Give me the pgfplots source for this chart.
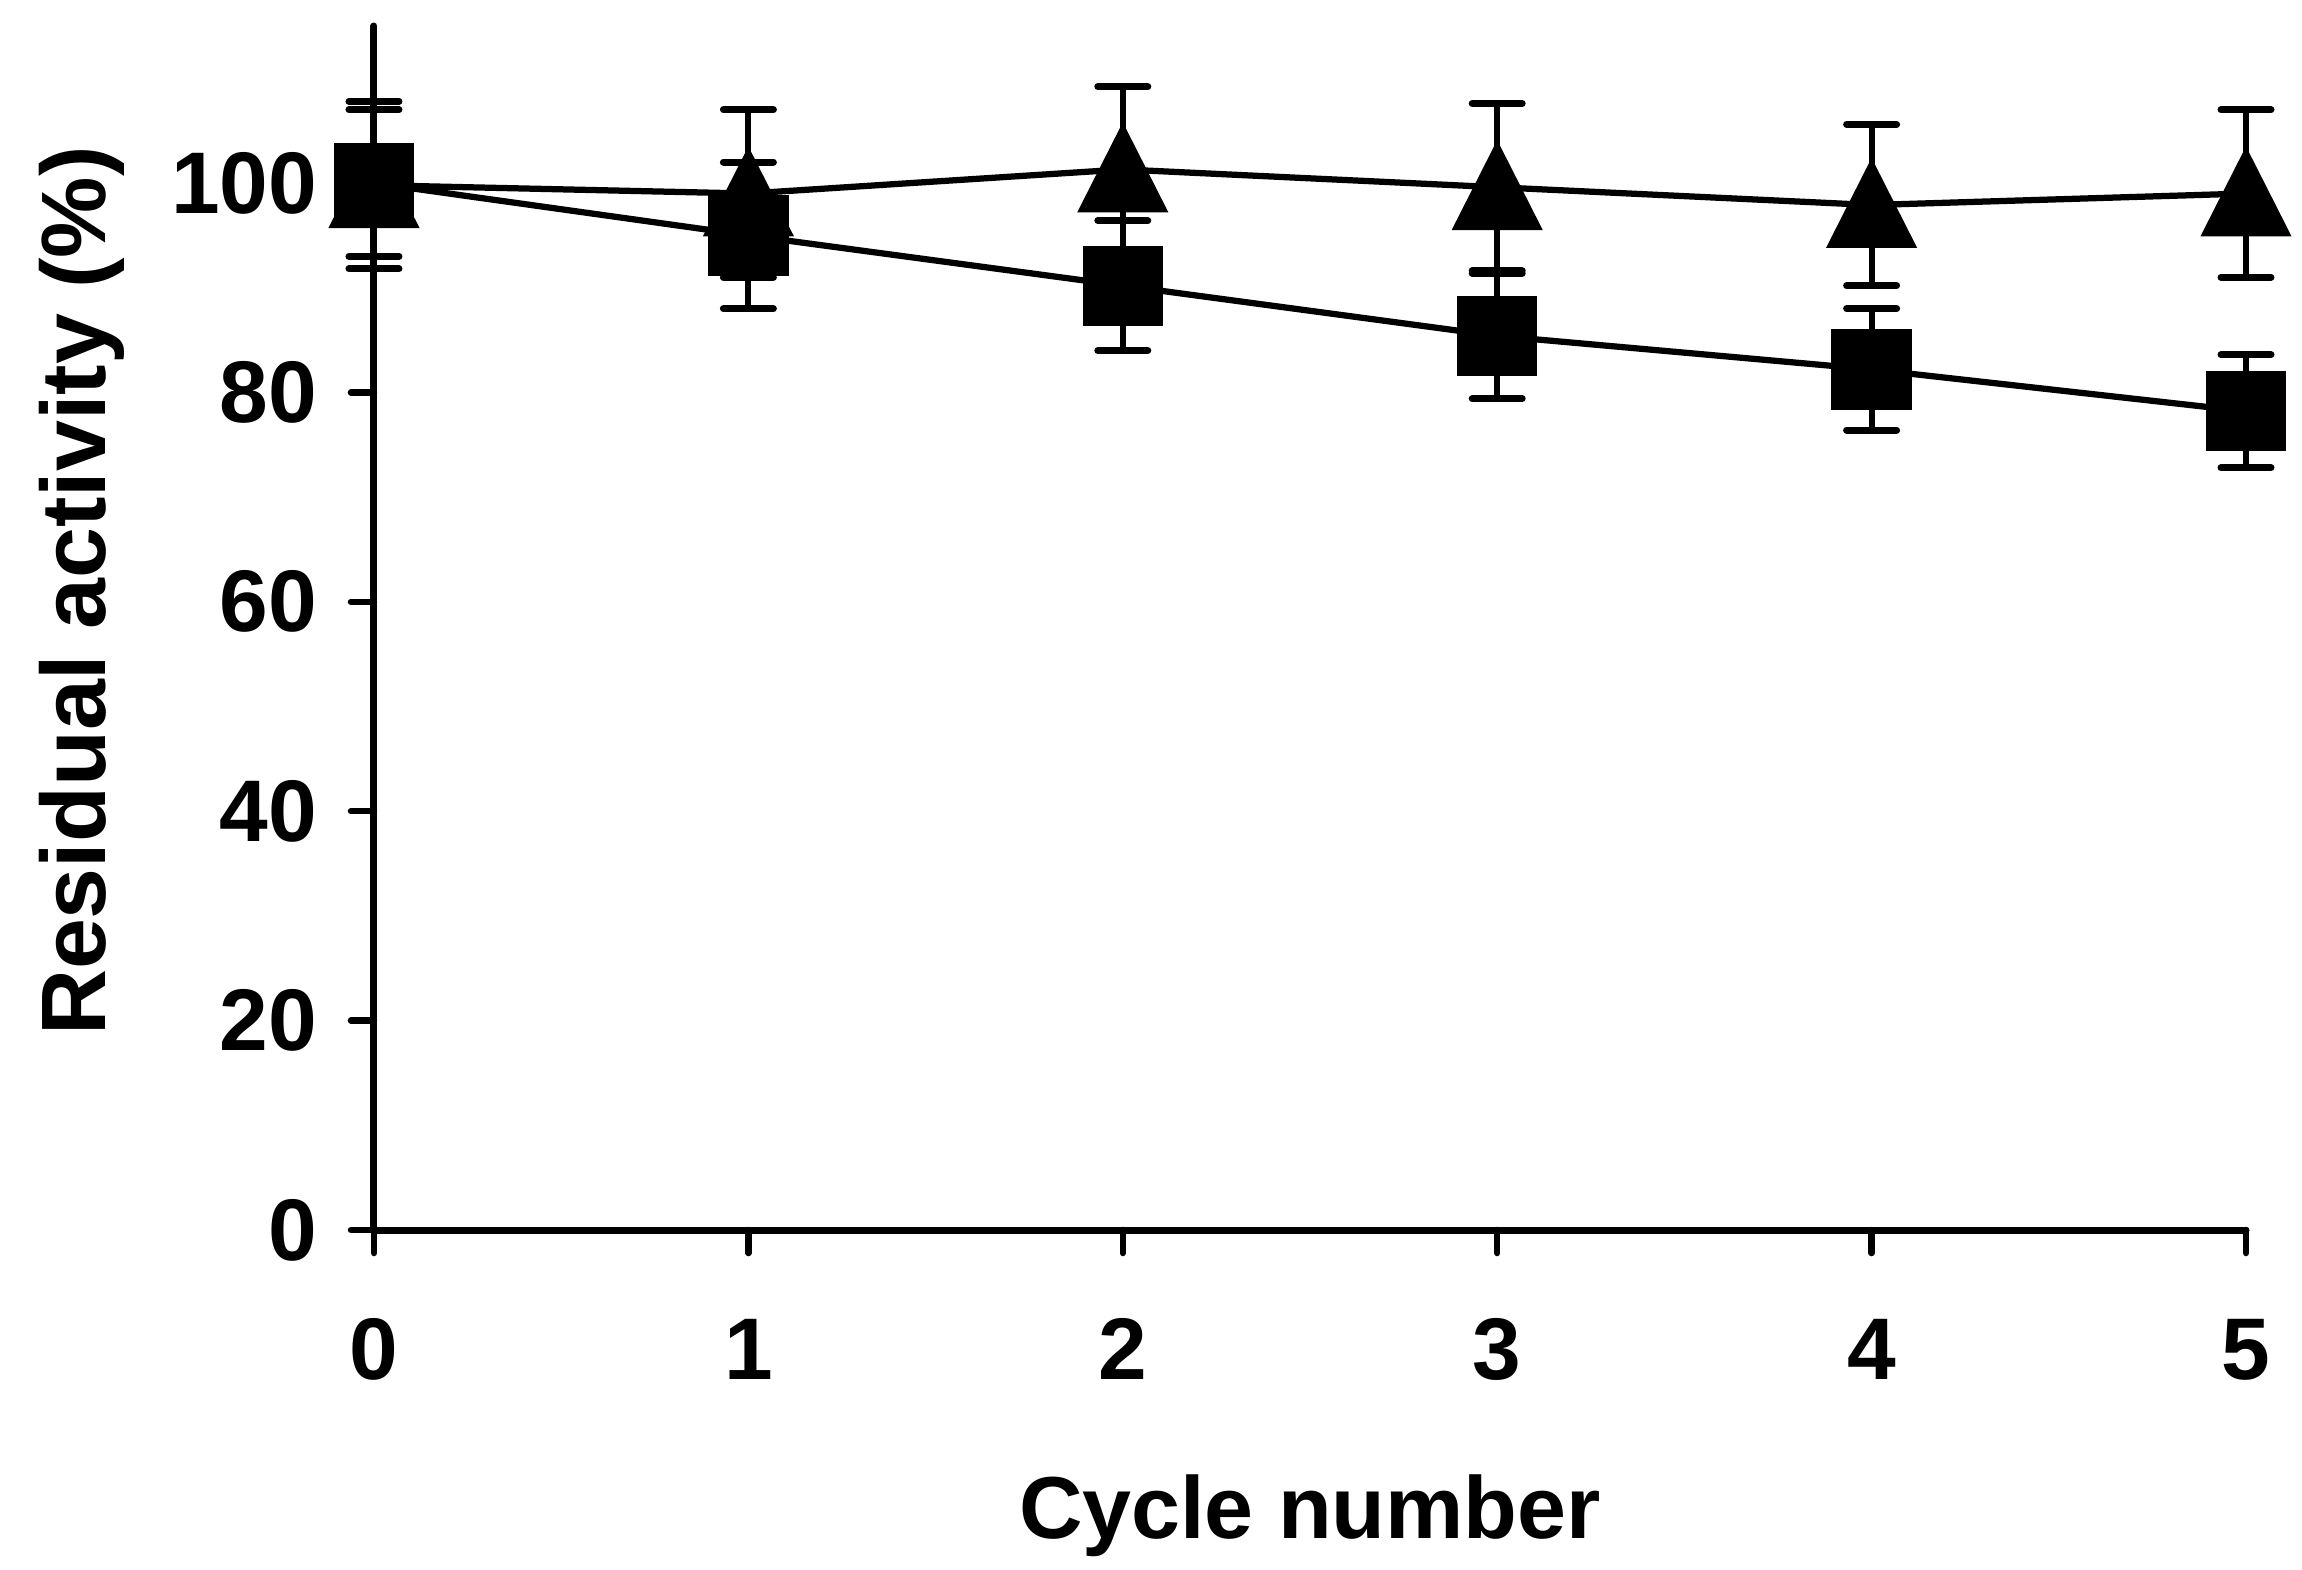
\documentclass[border=0pt]{standalone}
\usepackage{fontspec}
\setmainfont{Liberation Sans}
\usepackage{pgfplots}
\usepackage{pgfplotstable}
\pgfplotsset{compat=1.18}

% cycle, residual activity, error
\pgfplotstableread{
x y e
0 99.8 8.0
1 99.0 8.0
2 101.3 7.9
3 99.6 8.0
4 97.9 7.7
5 99.0 8.0
}\tridata

\pgfplotstableread{
x y e
0 100.0 7.0
1 95.0 7.0
2 90.2 6.2
3 85.4 6.0
4 82.2 5.8
5 78.2 5.4
}\sqdata

\begin{document}
\begin{tikzpicture}
\begin{axis}[
    scale only axis,
    width=374.4pt,
    height=240.8pt,
    xmin=0, xmax=5,
    ymin=0, ymax=115,
    axis lines*=left,
    axis line style={line width=1.4pt, line cap=round},
    xtick={0,...,5},
    ytick={0,20,...,100},
    tick align=outside,
    major tick length=4.6pt,
    tick style={line width=1.3pt, black, line cap=round},
    /pgf/number format/assume math mode=true,
    tick label style={font=\fontsize{17.5}{17.5}\selectfont\bfseries, inner sep=0pt},
    yticklabel style={anchor=east, xshift=-6.6pt},
    xticklabel style={anchor=base, yshift=-25.2pt},
    xlabel={Cycle number},
    xlabel style={font=\fontsize{17.6}{17.6}\selectfont\bfseries, at={(rel axis cs:0.5,0)}, anchor=base, yshift=-61.6pt},
    ylabel={Residual activity (\%)},
    ylabel style={font=\fontsize{18.3}{18.3}\selectfont\bfseries, at={(rel axis cs:-0.1432,0.5307)}, anchor=base},
    clip=false,
]
\addplot[black, line width=1.25pt, mark=triangle*,
    mark size=9.35pt, mark options={solid, yscale=1.14, yshift=-2.3pt},
    error bars/.cd, y dir=both, y explicit,
    error bar style={line width=1.2pt, line cap=round},
    error mark options={rotate=90, mark size=5pt, line width=1.4pt, line cap=round, yscale=1, yshift=0pt}]
    table[x=x, y=y, y error=e] {\tridata};
\addplot[black, line width=1.25pt, mark=square*,
    mark size=7.4pt, mark options={solid},
    error bars/.cd, y dir=both, y explicit,
    error bar style={line width=1.2pt, line cap=round},
    error mark options={rotate=90, mark size=5pt, line width=1.4pt, line cap=round}]
    table[x=x, y=y, y error=e] {\sqdata};
\end{axis}
\pgfresetboundingbox
\path[use as bounding box] (-74.8pt,-67.8pt) rectangle (385.6pt,246pt);
\end{tikzpicture}
\end{document}
